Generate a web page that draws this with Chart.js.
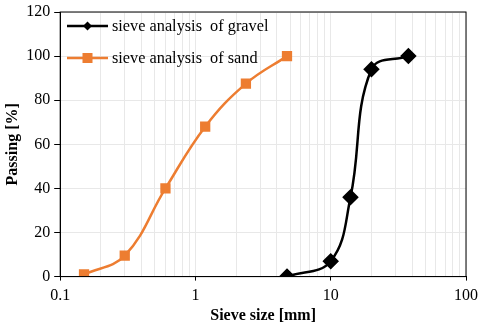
<!DOCTYPE html>
<html>
<head>
<meta charset="utf-8">
<script src="https://cdn.jsdelivr.net/npm/chart.js@4"></script>
<style>
  html, body { margin: 0; padding: 0; background: #fff; }
  #wrap { width: 480px; height: 327px; }
</style>
</head>
<body>
<div id="wrap"><canvas id="c" width="480" height="327"></canvas></div>
<script>
// sieve sizes [mm] and passing [%]
var gravelSize = [4.75, 10, 14, 20, 37.5];
var gravelPass = [0, 7, 36, 94, 100];
var sandSize = [0.15, 0.3, 0.6, 1.18, 2.36, 4.75];
var sandPass = [1, 9.5, 40, 68, 87.5, 100];
var xLabels = [0.1, 1, 10, 100];
var yTicks = [0, 20, 40, 60, 80, 100, 120];

var gravelColor = '#000000';
var sandColor = '#ED7D31';
var serif = '"Liberation Serif", serif';

var toPoints = (xs, ys) => xs.map((x, i) => ({x: x, y: ys[i]}));

// frame around plot area + legend with line and marker
var framePlugin = {
    id: 'frame',
    afterDraw: (chart) => {
        const ctx = chart.ctx;
        const a = chart.chartArea;
        ctx.save();
        ctx.strokeStyle = '#000';
        ctx.lineWidth = 1;
        ctx.strokeRect(a.left, a.top, a.right - a.left, a.bottom - a.top);

        const items = [
            {text: 'sieve analysis  of gravel', color: gravelColor, style: 'diamond', y: 26},
            {text: 'sieve analysis  of sand', color: sandColor, style: 'square', y: 58},
        ];
        ctx.font = '16.3px ' + serif;
        ctx.textBaseline = 'middle';
        items.forEach(it => {
            ctx.strokeStyle = it.color;
            ctx.lineWidth = 2.5;
            ctx.beginPath();
            ctx.moveTo(67, it.y);
            ctx.lineTo(108, it.y);
            ctx.stroke();
            ctx.fillStyle = it.color;
            if (it.style === 'diamond') {
                ctx.beginPath();
                ctx.moveTo(87.5, it.y - 4.5);
                ctx.lineTo(92, it.y);
                ctx.lineTo(87.5, it.y + 4.5);
                ctx.lineTo(83, it.y);
                ctx.closePath();
                ctx.fill();
            } else {
                ctx.fillRect(82.5, it.y - 5, 10, 10);
            }
            ctx.fillStyle = '#000';
            ctx.fillText(it.text, 112, it.y + 1);
        });
        ctx.restore();
    }
};

var isMajor = (v) => xLabels.some(l => Math.abs(l - v) < 1e-9);

new Chart(document.getElementById('c'), {
    type: 'line',
    data: {
        datasets: [
            {
                label: 'sieve analysis  of gravel',
                data: toPoints(gravelSize, gravelPass),
                borderColor: gravelColor,
                backgroundColor: gravelColor,
                borderWidth: 2.5,
                pointStyle: 'rectRot',
                pointRadius: 6.5,
                pointHoverRadius: 6.5,
                tension: 0.4,
            },
            {
                label: 'sieve analysis  of sand',
                data: toPoints(sandSize, sandPass),
                borderColor: sandColor,
                backgroundColor: sandColor,
                borderWidth: 2.5,
                pointStyle: 'rect',
                pointRadius: 5.5,
                pointHoverRadius: 5.5,
                tension: 0.4,
            },
        ]
    },
    options: {
        responsive: false,
        animation: false,
        layout: {padding: {left: 3, right: 14, top: 12, bottom: 2}},
        plugins: {
            legend: {display: false},
            tooltip: {enabled: false},
        },
        scales: {
            x: {
                type: 'logarithmic',
                min: 0.1,
                max: 100,
                afterBuildTicks: (axis) => {
                    const t = [];
                    [0.1, 1, 10].forEach(d => {
                        for (let k = 1; k < 10; k++) t.push({value: +(d * k).toPrecision(3)});
                    });
                    t.push({value: 100});
                    axis.ticks = t;
                },
                afterFit: (axis) => { axis.paddingLeft = 0; axis.paddingRight = 0; },
                ticks: {
                    autoSkip: false,
                    maxRotation: 0,
                    color: '#000',
                    font: {family: serif, size: 16},
                    padding: 6,
                    callback: (v) => isMajor(v) ? String(v) : '',
                },
                grid: {
                    color: '#e8e8e8',
                    tickColor: (c) => isMajor(c.tick ? c.tick.value : 0) ? '#000' : 'rgba(0,0,0,0)',
                    tickLength: 4,
                },
                border: {color: '#000', width: 1},
                title: {
                    display: true,
                    text: 'Sieve size [mm]',
                    color: '#000',
                    font: {family: serif, size: 16, weight: 'bold'},
                    padding: {top: -6, bottom: 0},
                },
            },
            y: {
                min: 0,
                max: 120,
                afterBuildTicks: (axis) => { axis.ticks = yTicks.map(v => ({value: v})); },
                afterFit: (axis) => { axis.paddingTop = 0; axis.paddingBottom = 0; },
                ticks: {
                    color: '#000',
                    font: {family: serif, size: 16},
                    padding: 4,
                },
                grid: {
                    color: '#e8e8e8',
                    tickColor: '#000',
                    tickLength: 6,
                },
                border: {color: '#000', width: 1},
                title: {
                    display: true,
                    text: 'Passing [%]',
                    color: '#000',
                    font: {family: serif, size: 16, weight: 'bold'},
                    padding: {top: 0, bottom: 0},
                },
            },
        }
    },
    plugins: [framePlugin]
});
</script>
</body>
</html>
